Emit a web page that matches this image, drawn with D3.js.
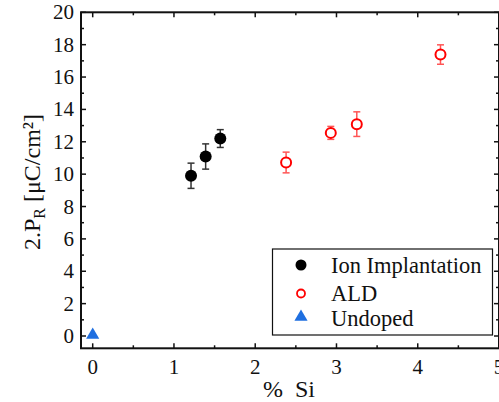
<!DOCTYPE html>
<html>
<head>
<meta charset="utf-8">
<script src="https://cdn.jsdelivr.net/npm/d3@7"></script>
<style>
  body { margin: 0; background: #fff; }
  svg text { font-family: "Liberation Serif", "DejaVu Serif", serif; fill: #111; }
</style>
</head>
<body>
<script>
// data
const ionX = [1.21, 1.39, 1.57]
const ionY = [9.9, 11.09, 12.2]
const ionErr = [0.78, 0.78, 0.55]

const aldX = [2.38, 2.93, 3.25, 4.28]
const aldY = [10.72, 12.55, 13.09, 17.39]
const aldErr = [0.64, 0.4, 0.76, 0.6]

const undopedX = [0]
const undopedY = [0]

const xTicks = [0, 1, 2, 3, 4, 5]
const yTicks = [0, 2, 4, 6, 8, 10, 12, 14, 16, 18, 20]
const legendLabels = ["Ion Implantation", "ALD", "Undoped"]

const w = 499
const h = 402
const pLeft = 81, pRight = 499, pTop = 12.3, pBottom = 348.3
const serif = "'Liberation Serif', 'DejaVu Serif', serif"

const svg = d3.select("body").append("svg").attr("width", w).attr("height", h)
  .attr("font-family", serif)

const x = d3.scaleLinear().domain([-0.144, 5]).range([pLeft, pRight])
const y = d3.scaleLinear().domain([-0.76, 20]).range([pBottom, pTop])

// frame
const axisColor = "#111"
svg.append("rect")
  .attr("x", pLeft).attr("y", pTop)
  .attr("width", pRight - pLeft).attr("height", pBottom - pTop)
  .attr("fill", "none").attr("stroke", axisColor).attr("stroke-width", 2)

const xMinor = d3.range(0.5, 5, 1)
const yMinor = d3.range(1, 20, 2)

// ticks pointing inward
function xt(vals, len) {
  vals.forEach((v) => {
    svg.append("line").attr("x1", x(v)).attr("x2", x(v))
      .attr("y1", pBottom).attr("y2", pBottom - len)
      .attr("stroke", axisColor).attr("stroke-width", 1.5)
    svg.append("line").attr("x1", x(v)).attr("x2", x(v))
      .attr("y1", pTop).attr("y2", pTop + len)
      .attr("stroke", axisColor).attr("stroke-width", 1.5)
  })
}
function yt(vals, len) {
  vals.forEach((v) => {
    svg.append("line").attr("x1", pLeft).attr("x2", pLeft + len)
      .attr("y1", y(v)).attr("y2", y(v))
      .attr("stroke", axisColor).attr("stroke-width", 1.5)
    svg.append("line").attr("x1", pRight).attr("x2", pRight - len)
      .attr("y1", y(v)).attr("y2", y(v))
      .attr("stroke", axisColor).attr("stroke-width", 1.5)
  })
}
xt(xTicks, 5)
xt(xMinor, 3)
yt(yTicks, 5)
yt(yMinor, 3)

svg.selectAll(".xl").data(xTicks).enter().append("text")
  .attr("x", (d) => x(d)).attr("y", 374)
  .attr("text-anchor", "middle").attr("font-size", "21px")
  .attr("font-family", serif)
  .text((d) => d)

svg.selectAll(".yl").data(yTicks).enter().append("text")
  .attr("x", 74).attr("y", (d) => y(d) + 7)
  .attr("text-anchor", "end").attr("font-size", "21px")
  .attr("font-family", serif)
  .text((d) => d)

// axis titles
svg.append("text").attr("x", 263).attr("y", 397)
  .attr("font-size", "24px").attr("word-spacing", "6px")
  .attr("font-family", serif)
  .text("% Si")

const yTitle = svg.append("text")
  .attr("transform", "translate(40,182) rotate(-90)")
  .attr("text-anchor", "middle").attr("font-size", "24px")
  .attr("font-family", serif)
yTitle.append("tspan").text("2.P")
yTitle.append("tspan").attr("font-size", "16px").attr("dy", 5).text("R")
yTitle.append("tspan").attr("dy", -5).text(" [μC/cm²]")

// error bars
function errBars(xs, ys, es, color) {
  xs.forEach((v, i) => {
    const cx = x(v)
    const y1 = y(ys[i] + es[i]), y2 = y(ys[i] - es[i])
    const g = svg.append("g").attr("stroke", color).attr("stroke-width", 1.5)
    g.append("line").attr("x1", cx).attr("x2", cx).attr("y1", y1).attr("y2", y2)
    g.append("line").attr("x1", cx - 3.5).attr("x2", cx + 3.5).attr("y1", y1).attr("y2", y1)
    g.append("line").attr("x1", cx - 3.5).attr("x2", cx + 3.5).attr("y1", y2).attr("y2", y2)
  })
}
errBars(ionX, ionY, ionErr, "#333")
errBars(aldX, aldY, aldErr, "#f55")

svg.selectAll(".ion").data(ionX).enter().append("circle")
  .attr("cx", (d) => x(d)).attr("cy", (d, i) => y(ionY[i]))
  .attr("r", 6).attr("fill", "#000")

svg.selectAll(".ald").data(aldX).enter().append("circle")
  .attr("cx", (d) => x(d)).attr("cy", (d, i) => y(aldY[i]))
  .attr("r", 5).attr("fill", "#fff").attr("stroke", "#f00").attr("stroke-width", 2)

const tri = d3.symbol().type(d3.symbolTriangle).size(75)
svg.selectAll(".und").data(undopedX).enter().append("path")
  .attr("d", tri)
  .attr("transform", (d, i) => `translate(${x(d)},${y(undopedY[i]) - 1})`)
  .attr("fill", "#1f6fe0")

// legend
svg.append("rect").attr("x", 272.5).attr("y", 249).attr("width", 220).attr("height", 86)
  .attr("fill", "#fff").attr("stroke", axisColor).attr("stroke-width", 1.2)
const ly = [265, 293.5, 318]
svg.append("circle").attr("cx", 301).attr("cy", ly[0]).attr("r", 5.5).attr("fill", "#000")
svg.append("circle").attr("cx", 301).attr("cy", ly[1]).attr("r", 4).attr("fill", "#fff")
  .attr("stroke", "#f00").attr("stroke-width", 1.8)
svg.append("path").attr("d", tri).attr("transform", `translate(301,${ly[2] - 1})`).attr("fill", "#1f6fe0")
svg.selectAll(".lt").data(legendLabels).enter().append("text")
  .attr("x", 331).attr("y", (d, i) => ly[i] + 7.5)
  .attr("font-size", "22.5px").attr("font-family", serif)
  .text((d) => d)
</script>
</body>
</html>
